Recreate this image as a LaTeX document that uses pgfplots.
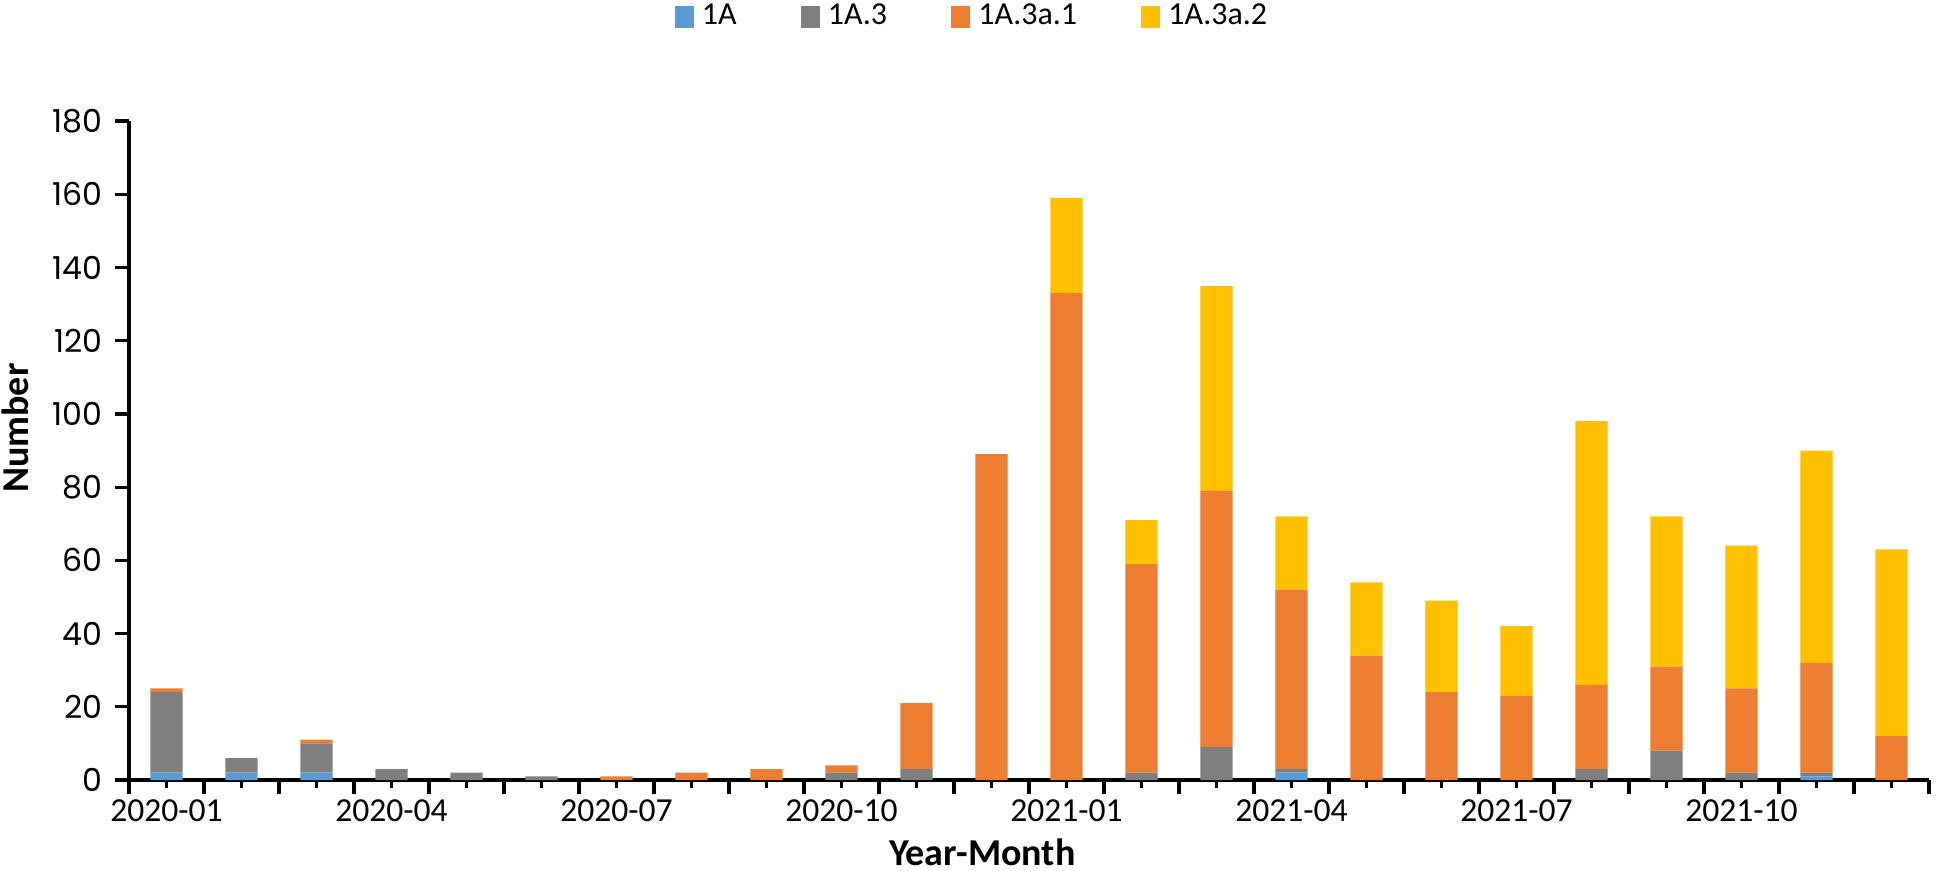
\documentclass[border=0pt]{standalone}
\usepackage{fontspec}
\setmainfont{Carlito}
\newfontfamily\ytickfont{Poppins}
\usepackage{pgfplots}
\usepackage{pgfplotstable}
\pgfplotsset{compat=1.18}

\definecolor{cA}{HTML}{5B9BD5}
\definecolor{cB}{HTML}{7F7F7F}
\definecolor{cC}{HTML}{ED7D31}
\definecolor{cD}{HTML}{FFC000}

% month index, 1A, 1A.3, 1A.3a.1, 1A.3a.2
\pgfplotstableread{
x  a  b   c   d
0  2  22  1   0
1  2  4   0   0
2  2  8   1   0
3  0  3   0   0
4  0  2   0   0
5  0  1   0   0
6  0  0   1   0
7  0  0   2   0
8  0  0   3   0
9  0  2   2   0
10 0  3   18  0
11 0  0   89  0
12 0  0   133 26
13 0  2   57  12
14 0  9   70  56
15 2  1   49  20
16 0  0   34  20
17 0  0   24  25
18 0  0   23  19
19 0  3   23  72
20 0  8   23  41
21 0  2   23  39
22 1  1   30  58
23 0  0   12  51
}\months

\pgfplotsset{
  sq/.style={legend image code/.code={\fill[##1] (0pt,-2.8pt) rectangle (4.8pt,2.8pt);}},
}

\begin{document}
\begin{tikzpicture}
\useasboundingbox (-32.25pt,-22.5pt) rectangle (457.25pt,195pt);
\begin{axis}[
  scale only axis,
  width=450pt, height=164.75pt,
  ybar stacked, bar width=0.43,
  xmin=-0.5, xmax=23.5,
  ymin=0, ymax=180,
  ytick={0,20,...,180},
  % long ticks between the months, short ticks at the bars
  xtick={-0.5,0.5,...,23.5},
  xticklabels={},
  minor xtick={0,...,23},
  extra x ticks={0,3,...,21},
  extra x tick labels={2020-01,2020-04,2020-07,2020-10,2021-01,2021-04,2021-07,2021-10},
  extra x tick style={major tick length=2pt},
  axis lines=left,
  axis line style={-, line width=1pt},
  tick align=outside,
  major tick length=3.5pt,
  minor tick length=2pt,
  tick style={line width=0.8pt, black},
  /pgf/number format/assume math mode=true,
  xticklabel style={font=\fontsize{8.4}{9}\selectfont, yshift=0.7pt},
  yticklabel style={font=\ytickfont\fontsize{7.9}{9}\selectfont, xshift=0.4pt},
  ylabel={\bfseries Number},
  ylabel style={font=\fontsize{9.5}{10}\selectfont, at={(axis description cs:-0.0633,0.534)}, anchor=center, rotate=0},
  xlabel={\bfseries Year-Month},
  xlabel style={font=\fontsize{9.5}{10}\selectfont, at={(axis description cs:0.474,-0.110)}, anchor=center},
  legend style={draw=none, at={(axis description cs:0.47,1.158)}, anchor=center,
    font=\fontsize{8}{9}\selectfont, legend columns=4,
    /tikz/every even column/.append style={column sep=14pt}},
  legend cell align=left,
  clip=false,
]
\addplot[fill=cA, draw=none, sq] table[x=x, y=a] {\months};
\addlegendentry{1A}
\addplot[fill=cB, draw=none, sq] table[x=x, y=b] {\months};
\addlegendentry{1A.3}
\addplot[fill=cC, draw=none, sq] table[x=x, y=c] {\months};
\addlegendentry{1A.3a.1}
\addplot[fill=cD, draw=none, sq] table[x=x, y=d] {\months};
\addlegendentry{1A.3a.2}
\end{axis}
\end{tikzpicture}
\end{document}
